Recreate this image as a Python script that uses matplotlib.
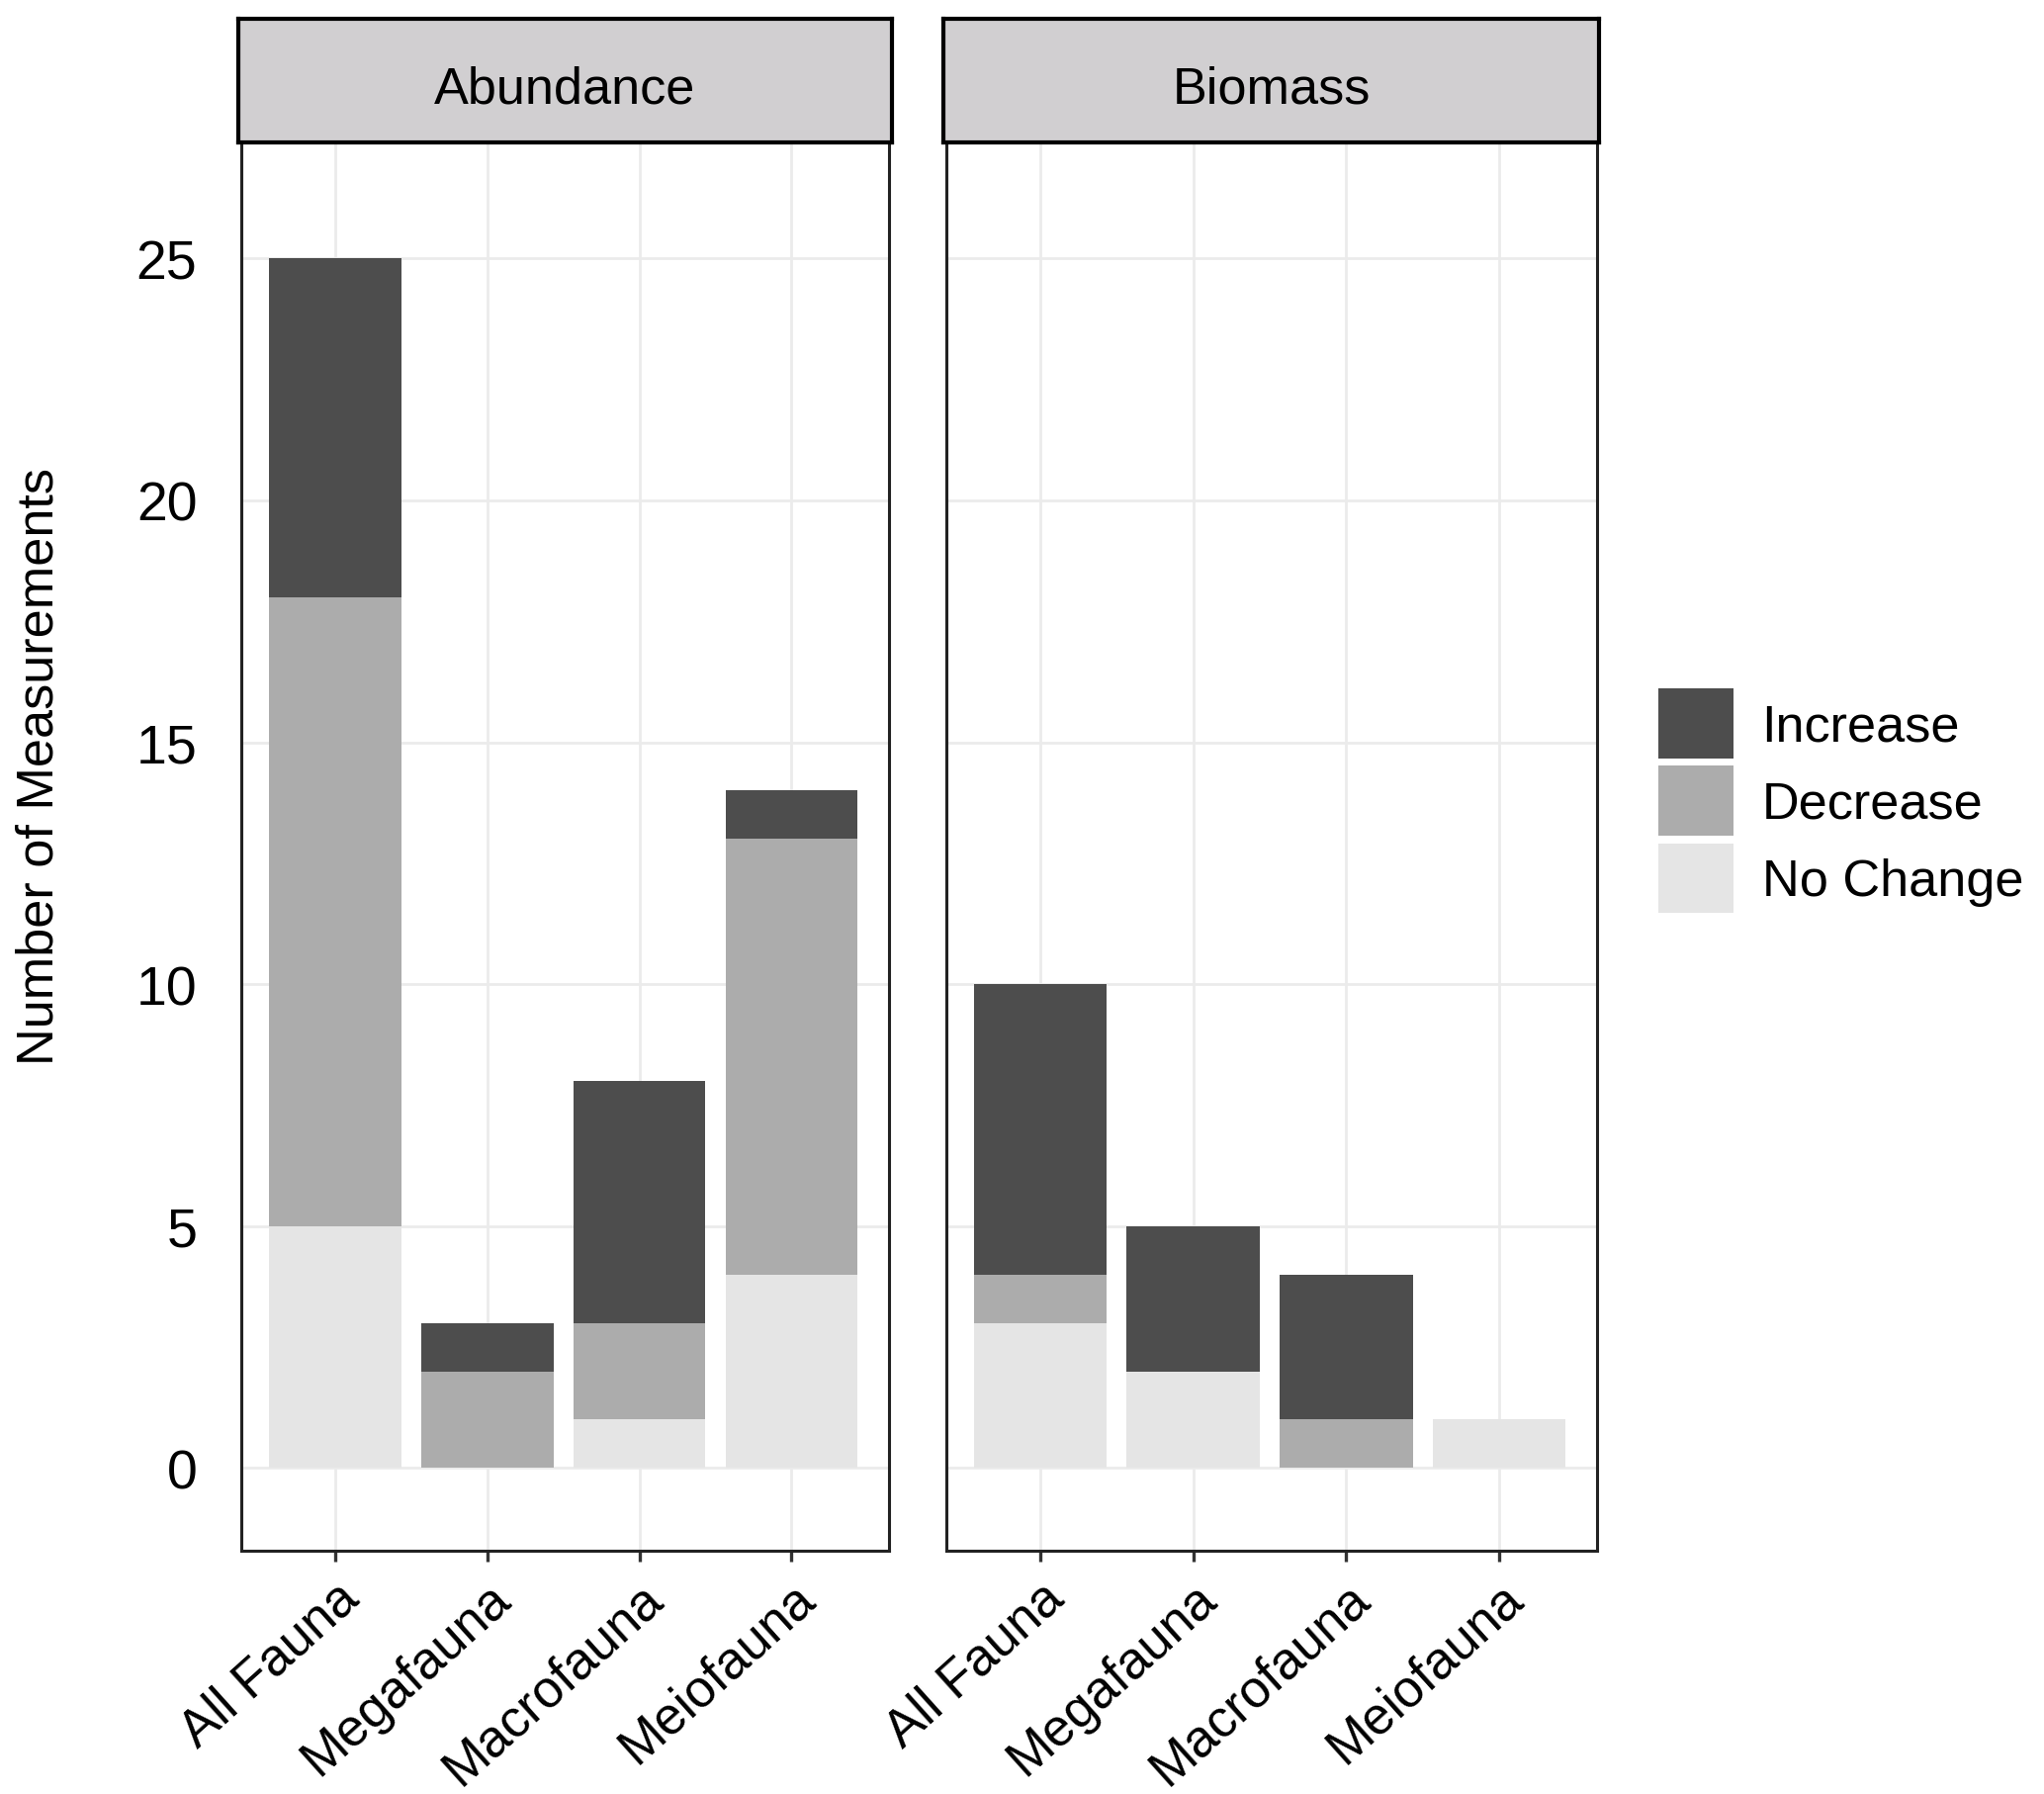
import numpy as np
import matplotlib
matplotlib.use("Agg")
import matplotlib.pyplot as plt
from matplotlib.patches import Patch

plt.rcParams['font.family'] = ['Liberation Sans', 'DejaVu Sans']

# data
categories = ['All Fauna', 'Megafauna', 'Macrofauna', 'Meiofauna']
panels = ['Abundance', 'Biomass']
abund_nochange = [5, 0, 1, 4]
abund_decrease = [13, 2, 2, 9]
abund_increase = [7, 1, 5, 1]
bio_nochange = [3, 2, 0, 1]
bio_decrease = [1, 0, 1, 0]
bio_increase = [6, 3, 3, 0]
series_names = ['Increase', 'Decrease', 'No Change']
series_colors = {'Increase': '#4d4d4d', 'Decrease': '#acacac',
                 'No Change': '#e5e5e5'}
y_ticks = [0, 5, 10, 15, 20, 25]

panel_data = {
    'Abundance': (abund_nochange, abund_decrease, abund_increase),
    'Biomass': (bio_nochange, bio_decrease, bio_increase),
}

W, H = 1568, 1377
FS_TICK = 20
FS_TEXT = 18.8
FS_XLAB = 19


def fx(px):
    return px / W


def fy(py):
    return 1 - py / H


fig = plt.figure(figsize=(10.335, 9.075), dpi=200)

panel_x = {'Abundance': (185, 682), 'Biomass': (726, 1225)}
x = np.arange(1, len(categories) + 1)

for name in panels:
    x0, x1 = panel_x[name]
    ax = fig.add_axes([fx(x0), fy(1190), fx(x1 - x0), fy(110) - fy(1190)])
    nochange, decrease, increase = panel_data[name]
    nochange = np.array(nochange)
    decrease = np.array(decrease)
    increase = np.array(increase)
    ax.bar(x, nochange, width=0.87, color=series_colors['No Change'],
           zorder=2)
    ax.bar(x, decrease, width=0.87, bottom=nochange,
           color=series_colors['Decrease'], zorder=2)
    ax.bar(x, increase, width=0.87, bottom=nochange + decrease,
           color=series_colors['Increase'], zorder=2)

    ax.set_xlim(0.385, 4.64)
    ax.set_ylim(-1.7, 27.4)
    ax.set_yticks(y_ticks)
    ax.set_xticks(x)
    ax.set_xticklabels(categories, rotation=42, ha='right',
                       rotation_mode='anchor', fontsize=FS_XLAB)
    ax.grid(True, color='#ebebeb', linewidth=1.0, zorder=0)
    ax.set_axisbelow(True)
    ax.tick_params(axis='y', length=0, pad=16, labelsize=FS_TICK)
    ax.tick_params(axis='x', length=4, width=1.2, pad=4, color='#333333')
    for sp in ax.spines.values():
        sp.set_linewidth(1.1)
        sp.set_color('#222222')
    if name != 'Abundance':
        ax.set_yticklabels([])

    # facet strip
    sx = fig.add_axes([fx(x0 - 2), fy(110), fx(x1 - x0 + 4),
                       fy(15) - fy(110)])
    sx.set_facecolor('#d1cfd1')
    sx.set_xticks([])
    sx.set_yticks([])
    for sp in sx.spines.values():
        sp.set_linewidth(1.5)
        sp.set_color('black')
    sx.text(0.5, 0.43, name, ha='center', va='center', fontsize=FS_TEXT,
            transform=sx.transAxes)

fig.text(fx(30), fy(588), 'Number of Measurements', rotation=90,
         ha='center', va='center', fontsize=FS_TEXT)

handles = [Patch(facecolor=series_colors[s], edgecolor='none')
           for s in series_names]
fig.legend(handles, series_names, loc='center left',
           bbox_to_anchor=(fx(1256), fy(615)), frameon=False,
           fontsize=FS_TEXT, handlelength=1.46, handleheight=1.7,
           handletextpad=0.55, labelspacing=0.15, borderaxespad=0)

fig.savefig('out.png', dpi=200, facecolor='white')
